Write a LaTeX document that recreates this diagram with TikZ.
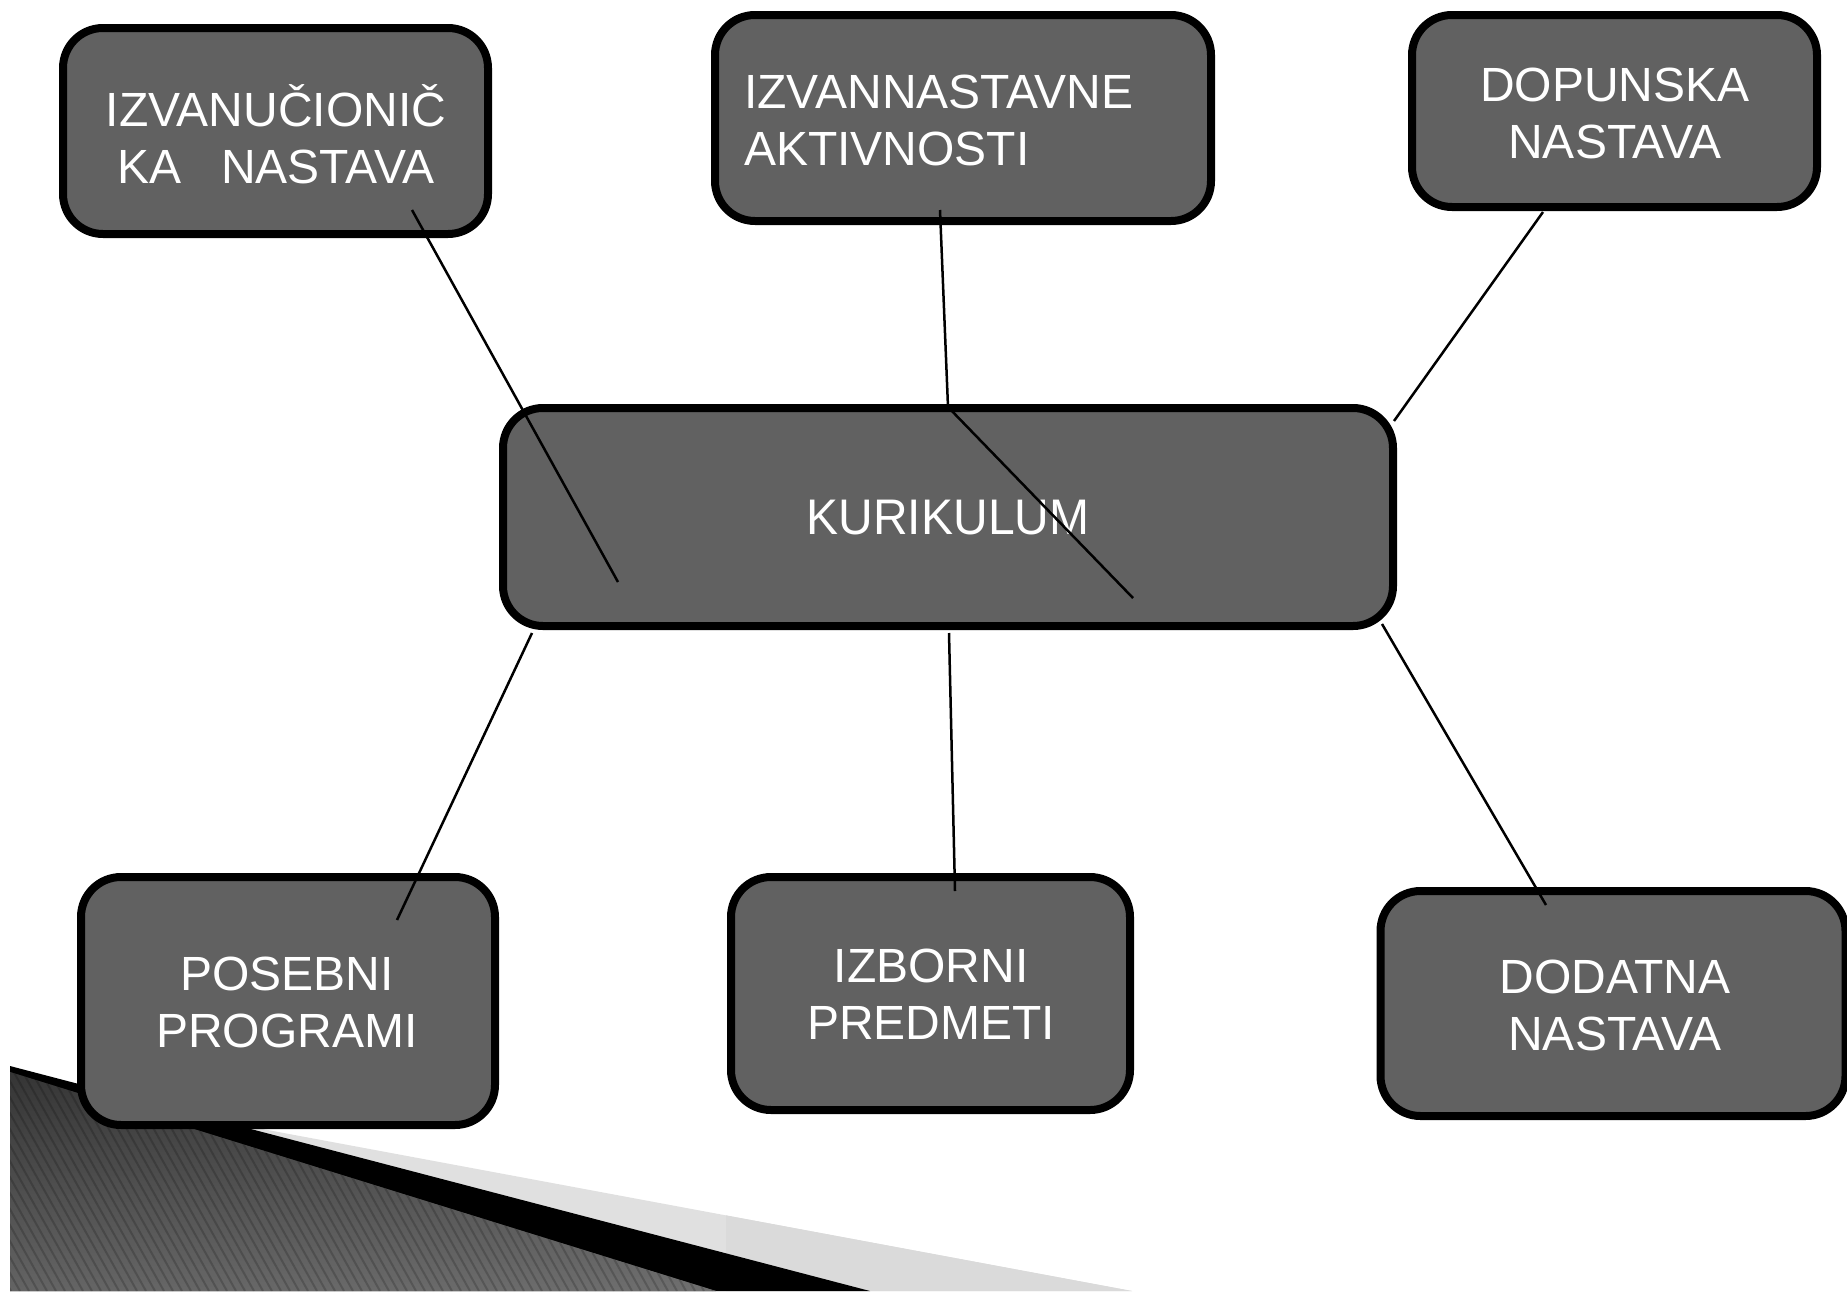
\documentclass[tikz,border=0pt]{standalone}
\usepackage{fontspec}
\setmainfont{Liberation Sans}
\definecolor{boxgray}{HTML}{616161}
\definecolor{bandgray}{HTML}{E0E0E0}
\definecolor{dotgray}{HTML}{DADADA}
\begin{document}
\begin{tikzpicture}[x=1pt,y=-1pt,
  box/.style={draw=black,line width=8pt,fill=boxgray,rounded corners=40pt,inner sep=0pt},
  lbl/.style={text=white,font=\fontsize{48}{57}\selectfont,align=center,inner sep=0pt},
  conn/.style={draw=black,line width=2.5pt}]
\useasboundingbox (0,0) rectangle (1847,1291);
% bottom-left decoration
\fill[bandgray] (10,1082) -- (1132,1291) -- (10,1291) -- cycle;
\begin{scope}
  \clip (726,1000) rectangle (1200,1291);
  \fill[dotgray] (10,1082) -- (1132,1291) -- (10,1291) -- cycle;
\end{scope}
\fill[black] (10,1066) -- (870,1291) -- (10,1291) -- cycle;
\begin{scope}
  \clip (10,1072) -- (716,1291) -- (10,1291) -- cycle;
  \shade[shading angle=60, top color=black!80, bottom color=black!45] (10,1060) rectangle (716,1291);
  \shade[left color=black!80, right color=black!70, opacity=0.45] (10,1060) rectangle (716,1291);
  \foreach \x in {-200,-191,...,720} {
    \draw[black,opacity=0.18,line width=2pt] (\x,1060) -- (\x+130,1291);
  }
\end{scope}
% boxes
\node[box,minimum width=425pt,minimum height=206pt] (b1) at (275.5,131) {};
\node[box,minimum width=496pt,minimum height=206pt] (b2) at (963,118) {};
\node[box,minimum width=405pt,minimum height=192pt] (b3) at (1614.5,111) {};
\node[box,minimum width=890pt,minimum height=218pt] (c) at (948,517) {};
\node[box,minimum width=414pt,minimum height=248pt] (b4) at (288,1001) {};
\node[box,minimum width=399pt,minimum height=233pt] (b5) at (930.5,993.5) {};
\node[box,minimum width=465pt,minimum height=225pt] (b6) at (1613,1003.5) {};
% texts
\node[lbl] (t1) at (276,134) {IZVANUČIONIČ\\KA\ \ \ NASTAVA};
\node[lbl,align=left,anchor=west] (t2) at (744,120) {IZVANNASTAVNE\\AKTIVNOSTI};
\node[lbl] (t3) at (1615,113) {DOPUNSKA\\NASTAVA};
\node[lbl,font=\fontsize{50}{60}\selectfont,xscale=0.96] (tc) at (948,518) {KURIKULUM};
\node[lbl] (t4) at (287,1002) {POSEBNI\\PROGRAMI};
\node[lbl] (t5) at (931,994) {IZBORNI\\PREDMETI};
\node[lbl] (t6) at (1615,1005) {DODATNA\\NASTAVA};
% connector end points
\coordinate (p1a) at (412,210);  \coordinate (p1b) at (618,582);
\coordinate (p2a) at (940,210);  \coordinate (p2b) at (948,407);
\coordinate (p2c) at (1133,598);
\coordinate (p3a) at (1543,212); \coordinate (p3b) at (1394,421);
\coordinate (p4a) at (532,633);  \coordinate (p4b) at (397,920);
\coordinate (p5a) at (949,633);  \coordinate (p5b) at (955,891);
\coordinate (p6a) at (1382,624); \coordinate (p6b) at (1546,905);
\draw[conn] (p1a) -- (p1b);
\draw[conn] (p2a) -- (p2b);
\draw[conn] (p2b) -- (p2c);
\draw[conn] (p3a) -- (p3b);
\draw[conn] (p4a) -- (p4b);
\draw[conn] (p5a) -- (p5b);
\draw[conn] (p6a) -- (p6b);
\end{tikzpicture}
\end{document}
